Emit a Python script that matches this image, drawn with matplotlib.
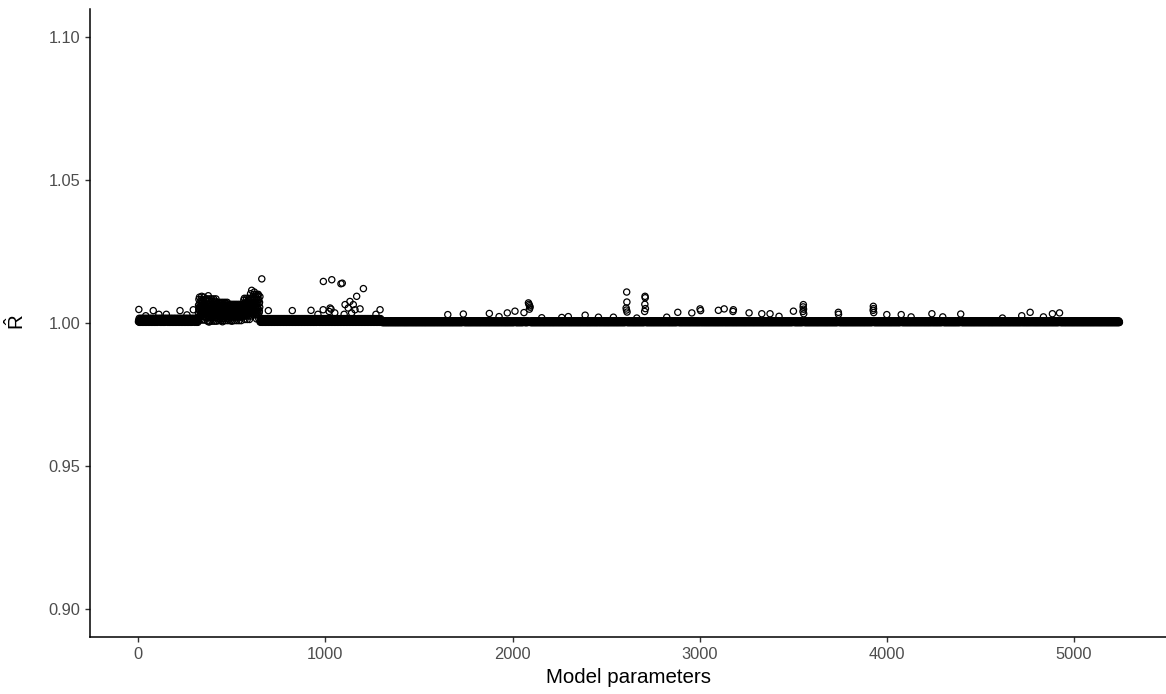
import numpy as np
import matplotlib
matplotlib.use('Agg')
from matplotlib import pyplot as plt

plt.rcParams['font.family'] = ['Liberation Sans', 'DejaVu Sans']
plt.rcParams['mathtext.fontset'] = 'custom'
plt.rcParams['mathtext.rm'] = 'Liberation Sans'
plt.rcParams['mathtext.it'] = 'Liberation Sans'

# number of model parameters
n_params = 5243

# blocks of parameters (first, last) and the R-hat values seen inside each block
block_first = [1, 321, 361, 421, 481, 561, 611, 651, 1301]
block_last = [320, 360, 420, 480, 560, 610, 650, 1300, 5243]
block_values = [
    [1.0004, 1.0009, 1.0013, 1.0006, 1.0016, 1.0002, 1.0011, 1.0007],
    [1.0035, 1.0062, 1.0048, 1.0082, 1.0022, 1.0055, 1.0090, 1.0041, 1.0070, 1.0010, 1.0058, 1.0030],
    [1.0032, 1.0058, 1.0045, 1.0076, 1.0018, 1.0052, 1.0084, 1.0038, 1.0066, 1.0006, 1.0050, 1.0027],
    [1.0030, 1.0052, 1.0040, 1.0068, 1.0016, 1.0047, 1.0072, 1.0034, 1.0060, 1.0008, 1.0044, 1.0024],
    [1.0028, 1.0048, 1.0036, 1.0060, 1.0020, 1.0043, 1.0065, 1.0031, 1.0054, 1.0008, 1.0040, 1.0024],
    [1.0036, 1.0062, 1.0048, 1.0080, 1.0024, 1.0056, 1.0086, 1.0042, 1.0070, 1.0012, 1.0060, 1.0032],
    [1.0042, 1.0072, 1.0055, 1.0092, 1.0028, 1.0065, 1.0100, 1.0048, 1.0082, 1.0014, 1.0068, 1.0036],
    [1.0003, 1.0008, 1.0012, 1.0005, 1.0015, 1.0002, 1.0010, 1.0006],
    [1.0002, 1.0005, 1.0003, 1.0007, 1.0001, 1.0004],
]

# parameters standing out of the band (index, R-hat)
out_param = [3, 40, 80, 110, 150, 223, 260, 294,
             339, 374, 378, 450, 500, 600, 606, 620, 640,
             660, 695, 823, 923, 960, 988, 989, 1020, 1025, 1030, 1034, 1050,
             1083, 1090, 1100, 1105, 1122, 1131, 1140, 1149, 1158, 1167, 1185,
             1203, 1270, 1292,
             1654, 1737, 1876, 1928, 1972, 2013, 2061,
             2085, 2088, 2090, 2091, 2094, 2156, 2263, 2298, 2388, 2459, 2539,
             2607, 2609, 2610, 2611, 2612, 2664,
             2706, 2707, 2708, 2709, 2710, 2824, 2883, 2958, 3002, 3005,
             3100, 3131, 3178, 3180, 3264, 3332, 3376, 3424, 3501,
             3552, 3553, 3554, 3555, 3556, 3741, 3742,
             3927, 3928, 3929, 3930, 4000, 4077, 4130, 4241, 4299, 4395,
             4618, 4721, 4766, 4837, 4885, 4923]
out_rhat = [1.0047, 1.0025, 1.0043, 1.0030, 1.0030, 1.0043, 1.0028, 1.0046,
            1.0093, 1.0095, 1.0003, 1.0004, 1.0006, 1.0102, 1.0114, 1.0108, 1.0098,
            1.0154, 1.0043, 1.0043, 1.0044, 1.0030, 1.0046, 1.0145, 1.0040, 1.0052, 1.0048, 1.0151, 1.0035,
            1.0137, 1.0139, 1.0030, 1.0064, 1.0052, 1.0075, 1.0035, 1.0064, 1.0046, 1.0093, 1.0049,
            1.0120, 1.0030, 1.0046,
            1.0029, 1.0031, 1.0033, 1.0022, 1.0035, 1.0041, 1.0036,
            1.0070, 1.0065, 1.0048, 1.0060, 1.0055, 1.0018, 1.0019, 1.0022, 1.0027, 1.0020, 1.0020,
            1.0052, 1.0045, 1.0108, 1.0073, 1.0038, 1.0017,
            1.0040, 1.0065, 1.0093, 1.0088, 1.0050, 1.0020, 1.0037, 1.0035, 1.0049, 1.0043,
            1.0044, 1.0049, 1.0040, 1.0046, 1.0035, 1.0032, 1.0032, 1.0023, 1.0041,
            1.0040, 1.0056, 1.0064, 1.0048, 1.0032, 1.0037, 1.0030,
            1.0044, 1.0058, 1.0050, 1.0036, 1.0029, 1.0029, 1.0021, 1.0032, 1.0021, 1.0031,
            1.0017, 1.0025, 1.0037, 1.0021, 1.0032, 1.0035]

params = np.arange(1, n_params + 1)
rhat = np.zeros(n_params)
for first, last, vals in zip(block_first, block_last, block_values):
    rhat[first - 1:last] = np.resize(vals, last - first + 1)
for p, r in zip(out_param, out_rhat):
    rhat[p - 1] = r

fig = plt.figure(figsize=(11.66, 6.94), dpi=100)
ax = fig.add_axes([90 / 1166, (694 - 637.3) / 694, 1076 / 1166, 628.8 / 694])

ax.scatter(params, rhat, s=20, facecolors='none', edgecolors='black', linewidths=0.9)

ax.set_xlim(-258, 5492)
ax.set_ylim(0.89, 1.11)
ax.set_xticks([0, 1000, 2000, 3000, 4000, 5000])
ax.set_yticks([0.90, 0.95, 1.00, 1.05, 1.10])
ax.set_yticklabels(['0.90', '0.95', '1.00', '1.05', '1.10'])

for s in ['top', 'right']:
    ax.spines[s].set_visible(False)
for s in ['left', 'bottom']:
    ax.spines[s].set_linewidth(1.1)
ax.tick_params(length=3.6, width=1.0, color='#333333', labelcolor='#4D4D4D',
               labelsize=11.8, pad=3.5)

ax.set_xlabel('Model parameters', fontsize=14.8, labelpad=4)
fig.text(16 / 1166, 1 - 322 / 694, r'$\hat{\mathrm{R}}$', fontsize=14.8,
         rotation=90, ha='center', va='center')

fig.savefig('out.png', dpi=100)
